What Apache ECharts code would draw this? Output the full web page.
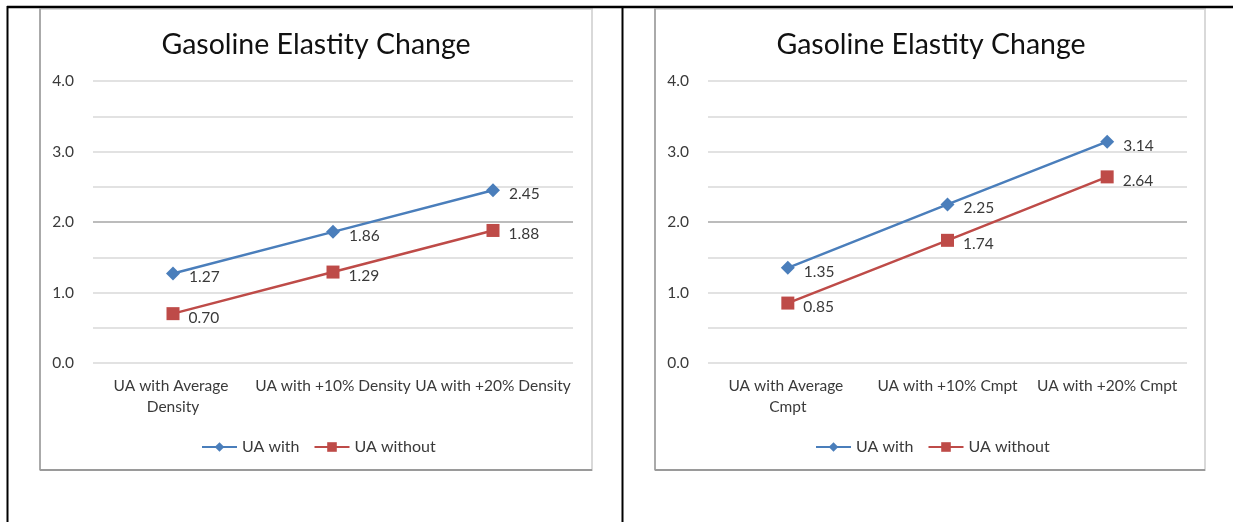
<!DOCTYPE html>
<html>
<head>
<meta charset="utf-8">
<style>
  html, body { margin: 0; padding: 0; background: #ffffff; }
  #chart { width: 1233px; height: 522px; }
</style>
<script src="https://cdn.jsdelivr.net/npm/echarts@6/dist/echarts.min.js"></script>
</head>
<body>
<div id="chart"></div>
<script>
// Category labels for the two panels
const densityCategories = ['UA with Average Density', 'UA with +10% Density', 'UA with +20% Density'];
const cmptCategories = ['UA with Average Cmpt', 'UA with +10% Cmpt', 'UA with +20% Cmpt'];

// Gasoline elasticity values
const densityWith = [1.27, 1.86, 2.45];
const densityWithout = [0.70, 1.29, 1.88];
const cmptWith = [1.35, 2.25, 3.14];
const cmptWithout = [0.85, 1.74, 2.64];

const seriesNames = ['UA with', 'UA without'];
const titleText = 'Gasoline Elastity Change';

const FONT = 'Lato, "Open Sans", sans-serif';
const TEXT = '#3a3a3a';
const BLUE = '#4a7ebb';
const RED = '#be4b48';

// Gridlines every 0.5; the 2.0 line is drawn a shade darker
const gridColors = ['#d9d9d9', '#d9d9d9', '#d9d9d9', '#d9d9d9', '#a6a6a6', '#d9d9d9', '#d9d9d9', '#d9d9d9', '#d9d9d9'];

function xAxis(gridIndex, cats, wrapWidth) {
  return {
    type: 'category', gridIndex, data: cats, boundaryGap: true,
    axisLine: { show: false }, axisTick: { show: false },
    axisLabel: {
      color: TEXT, fontFamily: FONT, fontSize: 15.5, margin: 12, lineHeight: 21,
      interval: 0, width: wrapWidth, overflow: 'break'
    }
  };
}

function yAxis(gridIndex) {
  return {
    type: 'value', gridIndex, min: 0, max: 4, interval: 0.5,
    axisLine: { show: false }, axisTick: { show: false },
    axisLabel: {
      color: TEXT, fontFamily: FONT, fontSize: 15.5, margin: 19,
      formatter: v => (Math.abs(v - Math.round(v)) < 1e-9 ? v.toFixed(1) : '')
    },
    splitLine: { show: true, lineStyle: { color: gridColors, width: 1.5 } }
  };
}

function lineSeries(name, idx, data, color, symbol, size) {
  return {
    name, type: 'line', xAxisIndex: idx, yAxisIndex: idx, data,
    symbol, symbolSize: size, showSymbol: true,
    lineStyle: { color, width: 2.5 },
    itemStyle: { color },
    label: {
      show: true, position: 'right', distance: 9, offset: [0, 4],
      color: TEXT, fontFamily: FONT, fontSize: 15.5,
      formatter: p => p.value.toFixed(2)
    },
    animation: false
  };
}

function legend(leftX) {
  return {
    data: seriesNames, left: leftX, top: 434, orient: 'horizontal',
    itemWidth: 35, itemHeight: 12, itemGap: 14,
    textStyle: { color: TEXT, fontFamily: FONT, fontSize: 16 }
  };
}

function frame(x, y, w, h) {
  return [
    { type: 'rect', shape: { x, y, width: w, height: h }, style: { fill: '#ffffff', stroke: '#d9d9d9', lineWidth: 2 }, z: -10 },
    { type: 'line', shape: { x1: x, y1: y, x2: x, y2: y + h }, style: { stroke: '#9a9a9a', lineWidth: 1.5 }, z: -9 },
    { type: 'line', shape: { x1: x, y1: y + h, x2: x + w, y2: y + h }, style: { stroke: '#9a9a9a', lineWidth: 2 }, z: -9 }
  ];
}

const chart = echarts.init(document.getElementById('chart'), null, { renderer: 'canvas' });

chart.setOption({
  backgroundColor: '#ffffff',
  animation: false,
  title: [
    { text: titleText, left: 311, top: 25, textAlign: 'center',
      textStyle: { fontFamily: FONT, fontSize: 28.5, fontWeight: 'normal', color: '#111111' } },
    { text: titleText, left: 926, top: 25, textAlign: 'center',
      textStyle: { fontFamily: FONT, fontSize: 28.5, fontWeight: 'normal', color: '#111111' } }
  ],
  legend: [legend(196), legend(810)],
  grid: [
    { left: 93, right: 660, top: 81, bottom: 159 },
    { left: 708, right: 46, top: 81, bottom: 159 }
  ],
  xAxis: [xAxis(0, densityCategories, 159), xAxis(1, cmptCategories, 148)],
  yAxis: [yAxis(0), yAxis(1)],
  series: [
    lineSeries(seriesNames[0], 0, densityWith, BLUE, 'diamond', 14),
    lineSeries(seriesNames[1], 0, densityWithout, RED, 'rect', 13),
    lineSeries(seriesNames[0], 1, cmptWith, BLUE, 'diamond', 14),
    lineSeries(seriesNames[1], 1, cmptWithout, RED, 'rect', 13)
  ],
  graphic: [
    ...frame(40, 9, 552, 461),
    ...frame(655, 9, 550, 461),
    // Table rules around the two panels
    { type: 'line', shape: { x1: 7, y1: 7, x2: 1233, y2: 7 }, style: { stroke: '#000000', lineWidth: 2.5 }, z: 10 },
    { type: 'line', shape: { x1: 7.5, y1: 6, x2: 7.5, y2: 522 }, style: { stroke: '#000000', lineWidth: 2 }, z: 10 },
    { type: 'line', shape: { x1: 622.5, y1: 6, x2: 622.5, y2: 522 }, style: { stroke: '#000000', lineWidth: 2 }, z: 10 }
  ]
});
</script>
</body>
</html>
